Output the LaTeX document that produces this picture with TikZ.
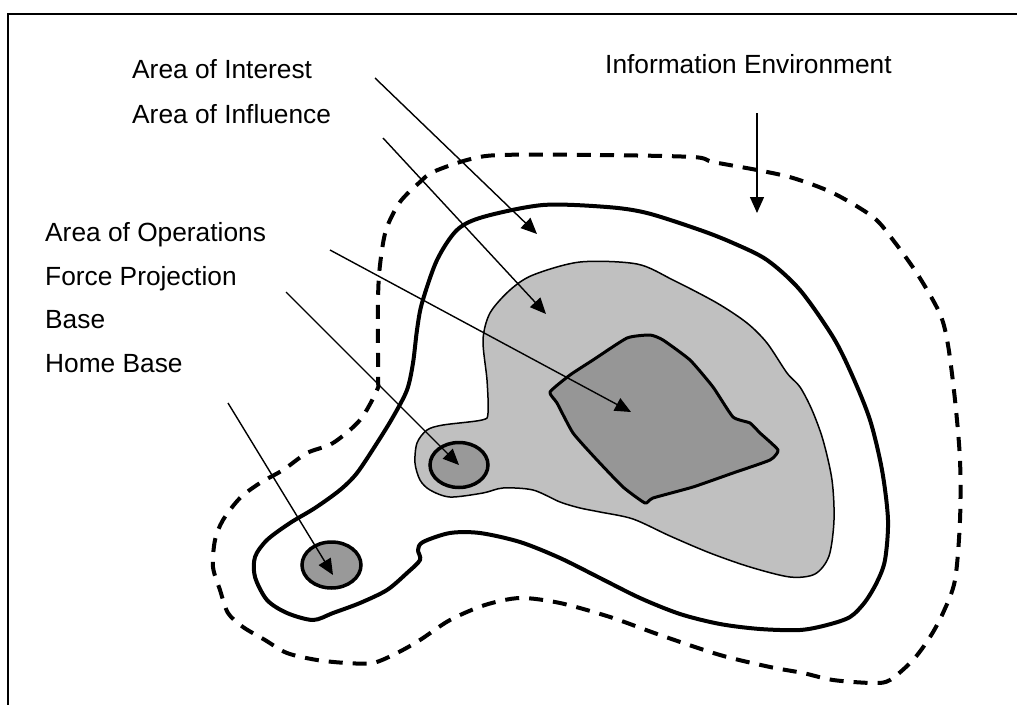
\documentclass[tikz,border=0pt]{standalone}
\usepackage{fontspec}
\setmainfont{Liberation Sans}
\usetikzlibrary{arrows.meta,shapes.geometric}
\definecolor{influencefill}{RGB}{192,192,192}
\definecolor{opsfill}{RGB}{150,150,150}
\definecolor{basefill}{RGB}{153,153,153}
\begin{document}
\begin{tikzpicture}[x=1pt,y=-1pt,
  lbl/.style={anchor=base west, inner sep=0pt, font=\fontsize{26.3}{30}\selectfont},
  pointer/.style={line width=1.4pt, -{Triangle[length=16pt,width=14pt]}},
  envline/.style={line width=4pt, dash pattern=on 14pt off 10pt, line cap=butt},
  interestline/.style={line width=4pt, line join=round},
  influencearea/.style={fill=influencefill, draw=black, line width=1.5pt},
  opsarea/.style={fill=opsfill, draw=black, line width=3pt, line join=round},
  basecirc/.style={ellipse, draw=black, fill=basefill, line width=3.5pt, inner sep=0pt},
  frameline/.style={line width=2.5pt}]
\useasboundingbox (0,0) rectangle (1017,704);
\clip (0,0) rectangle (1017,704);

% information environment (dashed)
\draw[envline] plot[smooth cycle, tension=0.5] coordinates {
  (500,155) (600,155) (693,157) (713,162) (757,170) (793,178) (833,193)
  (873,217) (893,240) (918,275) (940,314) (948,345) (955,400) (960,460)
  (960,520) (955,580) (943,613) (930,637) (913,660) (890,680) (873,683)
  (833,680) (803,673) (770,667) (720,655) (660,635) (610,617) (560,603)
  (520,598) (485,605) (450,620) (420,640) (397,653) (373,663) (347,663)
  (317,660) (287,653) (265,640) (243,627) (228,613) (220,590) (213,567)
  (215,540) (223,520) (240,498) (260,483) (283,470) (307,453) (333,443)
  (360,420) (377,390) (378,377) (378,300) (380,265) (386,230) (400,202)
  (420,182) (433,172) (467,160)};

% area of interest (thick solid)
\draw[interestline] plot[smooth cycle, tension=0.5] coordinates {
  (483,217) (543,205) (607,207) (647,213) (700,230) (733,243) (767,260)
  (800,290) (833,337) (852,375) (870,420) (882,470) (888,520) (885,560)
  (877,582) (865,602) (850,617) (827,625) (800,630) (760,629) (720,624)
  (680,614) (640,598) (600,578) (560,558) (520,542) (480,533) (450,533)
  (423,542) (418,550) (420,560) (407,573) (387,590) (360,603) (333,613)
  (313,620) (287,613) (267,600) (255,577) (255,557) (267,540) (290,523)
  (315,508) (340,490) (357,473) (377,443) (393,417) (407,390) (413,363)
  (417,330) (422,303) (437,260) (457,230)};

% area of influence (light grey)
\draw[influencearea] plot[smooth cycle, tension=0.5] coordinates {
  (580,262) (637,264) (673,280) (717,303) (747,323) (767,343) (787,373)
  (800,387) (812,410) (823,440) (832,480) (834,520) (829,556) (815,574)
  (790,577) (750,567) (710,553) (670,536) (633,519) (600,512) (580,508)
  (560,502) (533,490) (503,488) (483,493) (450,497) (430,490) (420,480)
  (415,463) (417,443) (427,430) (443,425) (482,420) (488,413) (487,380)
  (483,340) (490,313) (510,290) (533,275)};

% area of operations (dark grey)
\draw[opsarea] plot[smooth cycle, tension=0.3] coordinates {
  (550,392) (570,375) (593,360) (627,338) (650,335) (663,340) (690,360)
  (713,387) (733,417) (750,423) (760,433) (778,450) (770,460) (733,473)
  (693,487) (653,498) (645,503) (623,487) (597,460) (573,433) (557,403)};

% bases
\node[basecirc, minimum width=58pt, minimum height=45pt] (base) at (459,465) {};
\node[basecirc, minimum width=59pt, minimum height=46pt] (homebase) at (331.5,565) {};

% labels
\node[lbl] (lInterest) at (132,78) {Area of Interest};
\node[lbl] (lInfluence) at (132,123) {Area of Influence};
\node[lbl] (lEnv) at (605,73) {Information Environment};
\node[lbl] (lOps) at (45,241) {Area of Operations};
\node[lbl] (lForce) at (45,285) {Force Projection};
\node[lbl] (lBase) at (45,328) {Base};
\node[lbl] (lHome) at (45,372) {Home Base};

% pointer ends
\coordinate (sInterest) at (375,78);
\coordinate (tInterest) at (537,234);
\coordinate (sInfluence) at (383,138);
\coordinate (tInfluence) at (546,314);
\coordinate (sOps) at (330,250);
\coordinate (tOps) at (631,412);
\coordinate (sBase) at (286,292);
\coordinate (sHome) at (228,403);
\coordinate (tHome) at (333,575);
\coordinate (sEnv) at (757,113);
\coordinate (tEnv) at (757,213);

\draw[pointer] (sInterest) -- (tInterest);
\draw[pointer] (sInfluence) -- (tInfluence);
\draw[pointer] (sOps) -- (tOps);
\draw[pointer] (sBase) -- (base.center);
\draw[pointer] (sHome) -- (tHome);
\draw[pointer] (sEnv) -- (tEnv);

% outer frame
\draw[frameline] (8,14) rectangle (1040,730);
\end{tikzpicture}
\end{document}
